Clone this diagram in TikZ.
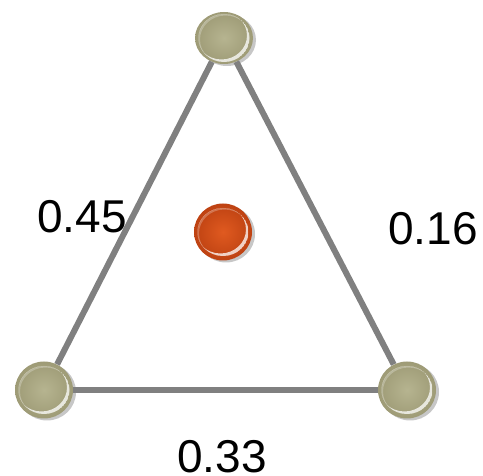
\documentclass[tikz,border=0pt]{standalone}
\usepackage{fontspec}
\setmainfont{Liberation Sans}
\usetikzlibrary{shadows,shapes.geometric}
\definecolor{khaki}{RGB}{182,180,144}
\definecolor{khakirim}{RGB}{158,155,118}
\definecolor{redball}{RGB}{224,90,32}
\definecolor{redrim}{RGB}{190,66,18}
\definecolor{edgegray}{RGB}{128,128,128}
\tikzset{
  ballbase/.style={ellipse, inner sep=0pt, draw=none,
    drop shadow={shadow xshift=3pt, shadow yshift=-2pt, opacity=0.22, fill=black},
    path picture={
      \begin{scope}
        \clip (path picture bounding box.center) ellipse [x radius=25.5pt, y radius=24pt];
        \fill[white, opacity=0.75, even odd rule]
          (path picture bounding box.center) ellipse [x radius=25.5pt, y radius=24pt]
          ([xshift=-2.5pt,yshift=2.5pt]path picture bounding box.center) ellipse [x radius=25.5pt, y radius=24pt];
      \end{scope}
      \begin{scope}
        \clip (path picture bounding box.center) ellipse [x radius=25.5pt, y radius=24pt];
        \fill[white, opacity=0.25, even odd rule]
          (path picture bounding box.center) ellipse [x radius=25.5pt, y radius=24pt]
          ([xshift=1.5pt,yshift=-1.5pt]path picture bounding box.center) ellipse [x radius=25.5pt, y radius=24pt];
      \end{scope}
    }},
  kball/.style={ballbase, minimum width=58pt, minimum height=57pt, shading=radial, inner color=khaki, middle color=khaki, outer color=khakirim},
  rball/.style={ballbase, minimum width=58pt, minimum height=57pt, shading=radial, inner color=redball, middle color=redball, outer color=redrim},
  edge/.style={draw=edgegray, line width=6pt},
  lbl/.style={font=\fontsize{46}{46}\selectfont, anchor=base, inner sep=0pt}
}
\begin{document}
\begin{tikzpicture}[x=1pt,y=-1pt]
\useasboundingbox (0,0) rectangle (483,476);
\node[kball, minimum height=52pt] (t) at (224,38) {};
\node[kball] (l) at (44,390) {};
\node[kball] (r) at (407,390) {};
\node[rball] (c) at (223,232) {};
\draw[edge] (t) -- (l);
\draw[edge] (t) -- (r);
\draw[edge] (l) -- (r);
\node[lbl] (a) at (82,233) {0.45};
\node[lbl] (b) at (433,245) {0.16};
\node[lbl] (d) at (222,472) {0.33};
\end{tikzpicture}
\end{document}
